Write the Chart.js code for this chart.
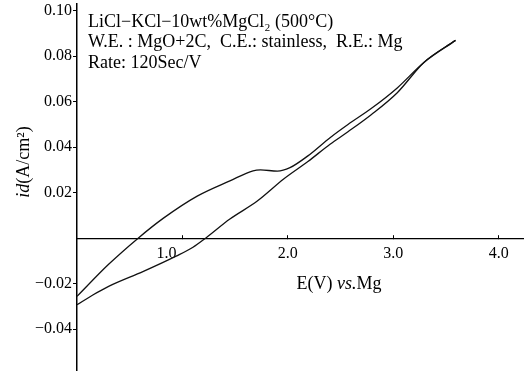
<!DOCTYPE html>
<html>
<head>
    <title>LiCl-KCl-10wt%MgCl2 polarization curve</title>
    <script src="https://cdn.jsdelivr.net/npm/chart.js"></script>
    <style>
        body { margin: 0; background: white; }
        .chart-container {
            width: 527px;
            height: 372px;
            position: relative;
        }
    </style>
</head>
<body>
    <div class="chart-container">
        <canvas id="cvChart"></canvas>
    </div>

    <script>
        // lower branch of the loop (E in V vs. Mg, id in A/cm2)
        const lowerE = [0, 0.15, 0.30, 0.63, 0.94, 1.10, 1.22, 1.45, 1.71, 1.96, 2.19, 2.40, 2.57, 2.79, 3.04, 3.29, 3.59];
        const lowerI = [-0.0293, -0.0250, -0.0212, -0.0146, -0.0079, -0.0040, 0, 0.0084, 0.0163, 0.0260, 0.0337, 0.0413, 0.0468, 0.0543, 0.0641, 0.0773, 0.0870];

        // upper branch of the loop
        const upperE = [3.59, 3.29, 3.04, 2.79, 2.57, 2.40, 2.19, 2.02, 1.90, 1.74, 1.67, 1.45, 1.14, 0.82, 0.58, 0.30, 0];
        const upperI = [0.0870, 0.0773, 0.0662, 0.0570, 0.0500, 0.0442, 0.0362, 0.0310, 0.0295, 0.0300, 0.0296, 0.0252, 0.0185, 0.0088, 0, -0.0115, -0.0256];

        const xTicks = [1.0, 2.0, 3.0, 4.0];
        const yTicks = [-0.04, -0.02, 0.02, 0.04, 0.06, 0.08, 0.10];

        const noteLines = [
            'LiCl−KCl−10wt%MgCl₂ (500°C)',
            'W.E. : MgO+2C,  C.E.: stainless,  R.E.: Mg',
            'Rate: 120Sec/V'
        ];

        const serif = '"Liberation Serif", "DejaVu Serif", serif';
        const toPoints = (xs, ys) => xs.map((x, i) => ({ x: x, y: ys[i] }));

        // draw a run of [text, style] pieces centred on cx
        function drawParts(c, parts, cx, cy, size) {
            let total = 0;
            parts.forEach(p => { c.font = p[1] + size + 'px ' + serif; total += c.measureText(p[0]).width; });
            let x = cx - total / 2;
            parts.forEach(p => {
                c.font = p[1] + size + 'px ' + serif;
                c.fillText(p[0], x, cy);
                x += c.measureText(p[0]).width;
            });
        }

        // axis titles and the note block, drawn as canvas text
        const textPlugin = {
            id: 'paperText',
            afterDraw(chart) {
                const c = chart.ctx;
                const y0 = chart.scales.y.getPixelForValue(0);
                c.save();
                c.fillStyle = '#000';
                c.textBaseline = 'middle';
                c.textAlign = 'left';

                c.font = '18px ' + serif;
                noteLines.forEach((t, i) => c.fillText(t, 88, 22 + i * 20.5));

                drawParts(c, [['E(V) ', ''], ['vs.', 'italic '], ['Mg', '']], 339, y0 + 46, 18);

                c.translate(24, 162);
                c.rotate(-Math.PI / 2);
                drawParts(c, [['id', 'italic '], ['(A/cm²)', '']], 0, 0, 18);
                c.restore();
            }
        };

        const ctx = document.getElementById('cvChart').getContext('2d');
        const chart = new Chart(ctx, {
            type: 'scatter',
            data: {
                datasets: [{
                    data: toPoints(lowerE, lowerI),
                    showLine: true,
                    borderColor: '#111',
                    borderWidth: 1.3,
                    pointRadius: 0,
                    cubicInterpolationMode: 'monotone'
                }, {
                    data: toPoints(upperE, upperI),
                    showLine: true,
                    borderColor: '#111',
                    borderWidth: 1.3,
                    pointRadius: 0,
                    cubicInterpolationMode: 'monotone'
                }]
            },
            options: {
                responsive: true,
                maintainAspectRatio: false,
                animation: false,
                layout: { padding: { top: 4, right: 4, bottom: 2, left: 0 } },
                plugins: {
                    legend: { display: false },
                    tooltip: { enabled: false }
                },
                scales: {
                    x: {
                        type: 'linear',
                        min: 0,
                        max: 4.23,
                        position: { y: 0 },
                        afterBuildTicks: s => { s.ticks = xTicks.map(v => ({ value: v })); },
                        afterFit: s => {
                            s.height = 0;
                            s.paddingLeft = s.paddingRight = 0;
                        },
                        grid: { drawOnChartArea: false, tickLength: -4, color: '#000' },
                        border: { color: '#000', width: 1.2 },
                        ticks: {
                            padding: 10,
                            maxRotation: 0,
                            color: '#000',
                            font: { family: serif, size: 16 },
                            // the 1.0 label sits left of its tick, clear of the curves
                            callback: v => v.toFixed(1) + (v === 1 ? '\u2002\u2002\u2002\u2002' : '')
                        }
                    },
                    y: {
                        min: -0.058,
                        max: 0.103,
                        afterBuildTicks: s => { s.ticks = yTicks.map(v => ({ value: v })); },
                        afterFit: s => {
                            s.width = 77;
                            s.paddingTop = s.paddingBottom = 0;
                        },
                        grid: { drawOnChartArea: false, tickLength: 4, color: '#000' },
                        border: { color: '#000', width: 1.5 },
                        ticks: {
                            padding: 1,
                            color: '#000',
                            font: { family: serif, size: 16 },
                            callback: v => (v < 0 ? '−' : '') + Math.abs(v).toFixed(2)
                        }
                    }
                }
            },
            plugins: [textPlugin]
        });
    </script>
</body>
</html>
